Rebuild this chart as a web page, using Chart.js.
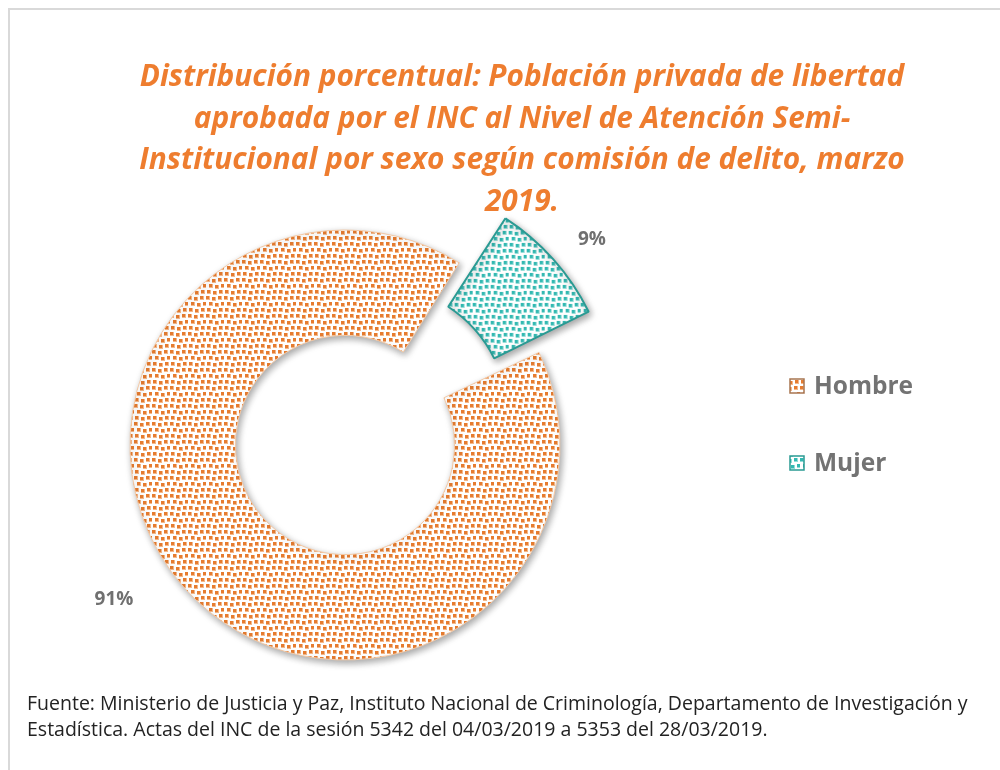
<!DOCTYPE html>
<html>
<head>
<meta charset="utf-8">
<script src="https://cdn.jsdelivr.net/npm/chart.js@4"></script>
<style>
  body { margin: 0; background: #fff; }
  #frame { position: absolute; left: 8px; top: 8px; width: 1000px; height: 770px; border-top: 2px solid #d9d9d9; border-left: 2px solid #d9d9d9; }
  #title { position: absolute; left: 44px; width: 956px; top: 54px; text-align: center;
    font: italic bold 29.8px "Open Sans", sans-serif; line-height: 41.5px; color: #ee7d2f; }
  #wrap { position: absolute; left: 8px; top: 8px; width: 984px; height: 752px; }
  #note { position: absolute; left: 27px; top: 690px; font: 19.5px "Open Sans", sans-serif; line-height: 26px; color: #222; white-space: nowrap; }
</style>
</head>
<body>
<div id="frame"></div>
<div id="wrap"><canvas id="donut"></canvas></div>
<div id="title">Distribución porcentual: Población privada de libertad<br>aprobada por el INC al Nivel de Atención Semi-<br>Institucional por sexo según comisión de delito, marzo<br>2019.</div>
<div id="note">Fuente: Ministerio de Justicia y Paz, Instituto Nacional de Criminología, Departamento de Investigación y<br>Estadística. Actas del INC de la sesión 5342 del 04/03/2019 a 5353 del 28/03/2019.</div>
<script>
// Data
const categories = ['Hombre', 'Mujer'];
const shares = [91, 9];
const dotColors = ['#e67c30', '#33b9b2'];
const haloColors = ['#f4b88a', '#93dcd7'];
const edgeColors = ['#f3c9a6', '#2a9a93'];

// small confetti pattern like the Excel fill
function makePattern(dot, halo) {
  const c = document.createElement('canvas');
  c.width = 18; c.height = 18;
  const g = c.getContext('2d');
  g.fillStyle = '#ffffff';
  g.fillRect(0, 0, 18, 18);
  const spots = [[0, 0], [6, 1], [12, 0], [3, 6], [9, 7], [15, 6], [1, 12], [7, 13], [13, 12]];
  g.fillStyle = halo;
  spots.forEach(([x, y]) => g.fillRect(x, y, 4, 4));
  g.fillStyle = dot;
  spots.forEach(([x, y]) => g.fillRect(x, y, 3, 3));
  return g.createPattern(c, 'repeat');
}
const patterns = dotColors.map((d, i) => makePattern(d, haloColors[i]));

// soft shadow under the slices
const shadowPlugin = {
  id: 'shadow',
  beforeDatasetsDraw(chart) {
    const ctx = chart.ctx;
    ctx.save();
    ctx.shadowColor = 'rgba(0,0,0,0.35)';
    ctx.shadowBlur = 7;
    ctx.shadowOffsetX = 2;
    ctx.shadowOffsetY = 3;
  },
  afterDatasetsDraw(chart) {
    chart.ctx.restore();
  }
};

// percentage labels outside the ring
const pctLabels = {
  id: 'pctLabels',
  afterDatasetsDraw(chart, args, opts) {
    const ctx = chart.ctx;
    const meta = chart.getDatasetMeta(0);
    ctx.save();
    ctx.font = 'bold 19px "Open Sans", sans-serif';
    ctx.fillStyle = '#707070';
    ctx.textAlign = 'center';
    ctx.textBaseline = 'middle';
    meta.data.forEach((arc, i) => {
      const p = arc.getProps(['x', 'y', 'startAngle', 'endAngle', 'outerRadius'], true);
      const mid = (p.startAngle + p.endAngle) / 2;
      const a = mid + opts.shift[i] * Math.PI / 180;
      const r = p.outerRadius + opts.gap[i];
      ctx.fillText(shares[i] + '%', p.x + r * Math.cos(a), p.y + r * Math.sin(a));
    });
    ctx.restore();
  }
};

// legend at the right
const sideLegend = {
  id: 'sideLegend',
  afterDraw(chart, args, opts) {
    const ctx = chart.ctx;
    ctx.save();
    ctx.font = 'bold 24.5px "Open Sans", sans-serif';
    ctx.textBaseline = 'middle';
    chart.data.labels.forEach((lab, i) => {
      const y = opts.y + i * opts.step;
      ctx.fillStyle = patterns[i];
      ctx.fillRect(opts.x, y - 7, 14, 14);
      ctx.strokeStyle = i === 0 ? '#a87550' : edgeColors[i];
      ctx.lineWidth = 1.5;
      ctx.strokeRect(opts.x, y - 7, 14, 14);
      ctx.fillStyle = '#737373';
      ctx.fillText(lab, opts.x + 24, y + 1);
    });
    ctx.restore();
  }
};

new Chart(document.getElementById('donut'), {
  type: 'doughnut',
  data: {
    labels: categories,
    datasets: [{
      data: shares,
      backgroundColor: patterns,
      borderColor: edgeColors,
      borderWidth: [1, 2],
      offset: [0, 175]
    }]
  },
  options: {
    responsive: true,
    maintainAspectRatio: false,
    animation: false,
    rotation: 64.5,
    cutout: '51%',
    radius: 215,
    layout: { padding: { left: 91, right: 401, top: 191, bottom: 69 } },
    plugins: {
      legend: { display: false },
      tooltip: { enabled: false },
      pctLabels: { shift: [7.9, 2], gap: [63, 106] },
      sideLegend: { x: 782, y: 378, step: 77 }
    }
  },
  plugins: [shadowPlugin, pctLabels, sideLegend]
});
</script>
</body>
</html>
